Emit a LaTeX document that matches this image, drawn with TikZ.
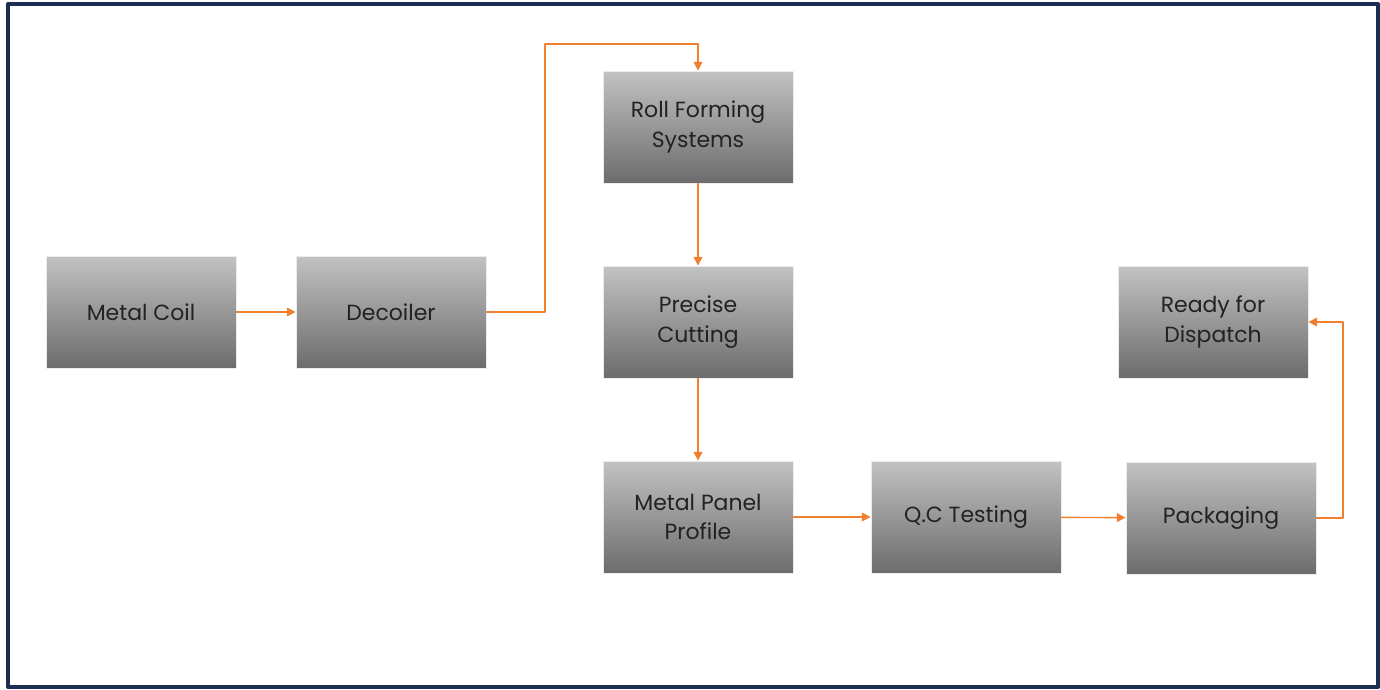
\documentclass[tikz,border=0pt]{standalone}
\usepackage{fontspec}
\setmainfont{Poppins}
\usetikzlibrary{arrows.meta}

\definecolor{frameblue}{RGB}{27,45,80}
\definecolor{flowline}{RGB}{240,128,48}
\definecolor{boxtop}{RGB}{194,194,194}
\definecolor{boxbot}{RGB}{108,108,108}
\definecolor{boxtext}{RGB}{34,34,34}

\begin{document}
\begin{tikzpicture}[x=0.02cm, y=-0.02cm, line cap=round, line join=round,
    stepbox/.style={draw=gray!15, line width=0.5pt, top color=boxtop, bottom color=boxbot,
      minimum width=3.8cm, minimum height=2.24cm, inner sep=0pt, align=center,
      text=boxtext, font=\fontsize{12.5}{17}\selectfont},
    flow/.style={draw=flowline, line width=0.8pt, -{Triangle[length=5pt, width=5pt]}}]

      % --- CADRU SI MARGINI ---
      \useasboundingbox (0,0) rectangle (1380,690);
      \draw[frameblue, line width=2.3pt] (8,4) rectangle (1378,687);

      % --- ETAPELE PROCESULUI ---
      \node[stepbox] (coil)  at (141,312)  {Metal Coil};
      \node[stepbox] (dec)   at (391,312)  {Decoiler};
      \node[stepbox] (roll)  at (698,127)  {Roll Forming\\Systems};
      \node[stepbox] (cut)   at (698,322)  {Precise\\Cutting};
      \node[stepbox] (panel) at (698,517)  {Metal Panel\\Profile};
      \node[stepbox] (qc)    at (966,517)  {Q.C Testing};
      \node[stepbox] (pack)  at (1221,518) {Packaging};
      \node[stepbox] (ready) at (1213,322) {Ready for\\Dispatch};

      % --- PUNCTE DE OCOLIRE ---
      \coordinate (over) at (545,44);
      \coordinate (side) at (1343,322);

      % --- SAGETI INTRE ETAPE ---
      \draw[flow] (coil) -- (dec);
      \draw[flow] (dec.east) -| (over) -| (roll.north);
      \foreach \a/\b in {roll/cut, cut/panel, panel/qc, qc/pack}
        \draw[flow] (\a) -- (\b);
      \draw[flow] (pack.east) -| (side) -- (ready.east);

\end{tikzpicture}
\end{document}
